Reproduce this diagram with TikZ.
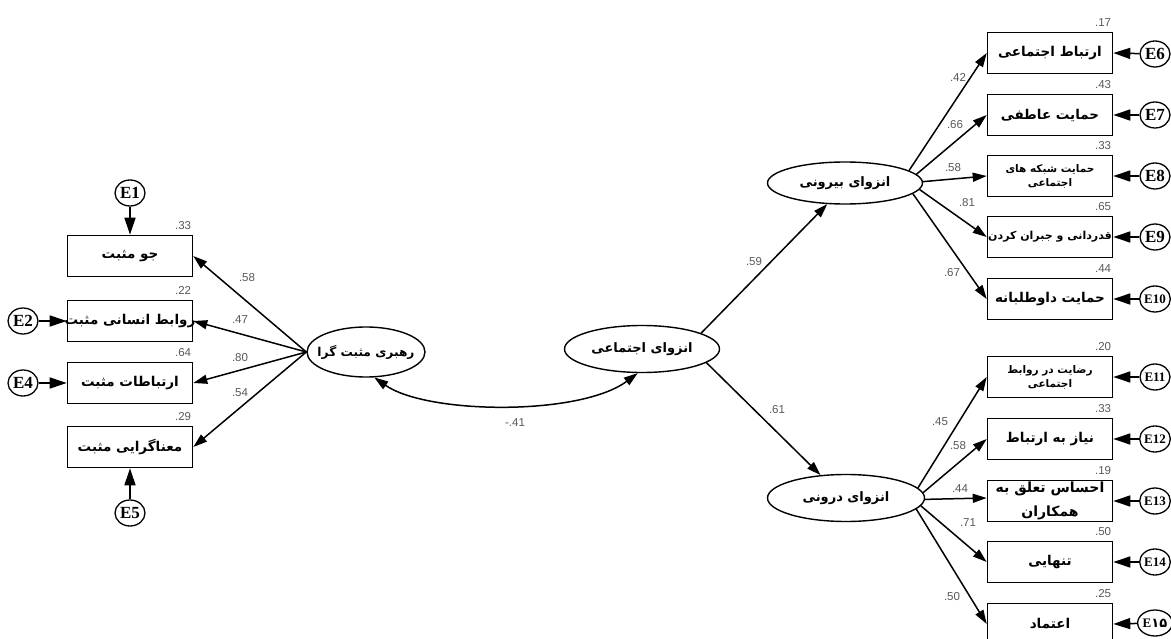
\documentclass[tikz,border=0pt]{standalone}
\usepackage{fontspec}
\setsansfont{Liberation Sans}
\newfontfamily\fa[Script=Arabic]{DejaVu Sans}
\newfontfamily\efont{Liberation Serif}
\TeXXeTstate=1
\usetikzlibrary{arrows.meta,shapes.geometric}
\newcommand{\faR}[1]{\makebox[0pt]{\beginR #1\endR}}
\begin{document}
\begin{tikzpicture}[x=1pt,y=-1pt,
  box/.style={draw, line width=1.6pt, minimum width=125pt, minimum height=41pt, inner sep=1pt, align=center, font=\fa\bfseries\fontsize{13.5}{15}\selectfont},
  smallbox/.style={box, font=\fa\bfseries\fontsize{10.5}{14}\selectfont},
  lat/.style={ellipse, draw, line width=1.4pt, inner sep=0pt, font=\fa\bfseries\fontsize{13}{15}\selectfont},
  err/.style={ellipse, draw, line width=1.3pt, minimum width=30pt, minimum height=26pt, inner sep=0pt, font=\efont\bfseries\fontsize{17}{17}\selectfont},
  errs/.style={err, font=\efont\bfseries\fontsize{13}{13}\selectfont},
  arr/.style={-{Triangle[length=14pt,width=9pt]}, line width=1.5pt},
  earr/.style={-{Triangle[length=17pt,width=11pt]}, line width=1.5pt},
  dbl/.style={{Triangle[length=14pt,width=9pt]}-{Triangle[length=14pt,width=9pt]}, line width=1.5pt},
  num/.style={font=\sffamily\fontsize{11.5}{11.5}\selectfont, text=black!65, inner sep=0pt},
  var/.style={num, anchor=south east, xshift=-2pt, yshift=5pt},
]
\useasboundingbox (0,0) rectangle (1171,639);
\clip (0,0) rectangle (1171,639);
\fill[white] (0,0) rectangle (1171,639);

% left indicators
\node[box] (b1) at (130,256) {\faR{جو مثبت}};
\node[box] (b2) at (130,321) {\faR{روابط انسانی مثبت}};
\node[box] (b3) at (130,383) {\faR{ارتباطات مثبت}};
\node[box] (b4) at (130,447) {\faR{معناگرایی مثبت}};
\node[err] (e1) at (130,193) {E1};
\node[err] (e2) at (23,321) {E2};
\node[err] (e4) at (23,383) {E4};
\node[err] (e5) at (130,513) {E5};

% latent variables
\node[lat, minimum width=118pt, minimum height=50pt, font=\fa\bfseries\fontsize{12.2}{15}\selectfont] (lead) at (366,352) {\faR{رهبری مثبت گرا}};
\node[lat, minimum width=155pt, minimum height=47pt] (soc) at (642,349) {\faR{انزوای اجتماعی}};
\node[lat, minimum width=155pt, minimum height=42pt] (outer) at (845,183) {\faR{انزوای بیرونی}};
\node[lat, minimum width=157pt, minimum height=47pt] (inner) at (846,498) {\faR{انزوای درونی}};

% right upper indicators
\node[box] (b6) at (1050,53) {\faR{ارتباط اجتماعی}};
\node[box] (b7) at (1050,115) {\faR{حمایت عاطفی}};
\node[smallbox] (b8) at (1050,176) {\faR{حمایت شبکه های}\\\faR{اجتماعی}};
\node[smallbox, font=\fa\bfseries\fontsize{11}{14}\selectfont] (b9) at (1050,237) {\faR{قدردانی و جبران کردن}};
\node[box] (b10) at (1050,299) {\faR{حمایت داوطلبانه}};
% right lower indicators
\node[smallbox] (b11) at (1050,377) {\faR{رضایت در روابط}\\\faR{اجتماعی}};
\node[box] (b12) at (1050,439) {\faR{نیاز به ارتباط}};
\node[box, minimum height=41pt, inner ysep=0pt, font=\fa\bfseries\fontsize{14}{24}\selectfont] (b13) at (1050,501) {\faR{احساس تعلق به}\\\faR{همکاران}};
\node[box] (b14) at (1050,562) {\faR{تنهایی}};
\node[box] (b15) at (1050,624) {\faR{اعتماد}};

\node[err] (e6) at (1155,54) {E6};
\node[err] (e7) at (1155,115) {E7};
\node[err] (e8) at (1155,176) {E8};
\node[err] (e9) at (1155,237) {E9};
\node[errs] (e10) at (1155,299) {E10};
\node[errs] (e11) at (1155,377) {E11};
\node[errs] (e12) at (1155,439) {E12};
\node[errs] (e13) at (1155,501) {E13};
\node[errs] (e14) at (1155,562) {E14};
\node[errs] (e15) at (1155,623) {E{\fa ۱۵}};

% error arrows
\draw[earr] (e1) -- (b1.north);
\draw[earr] (e2) -- (b2.west);
\draw[earr] (e4) -- (b3.west);
\draw[earr] (e5) -- (b4.south);
\foreach \i in {6,...,12,14,15} \draw[earr] (e\i) -- (b\i.east);
\draw[earr] (e13) -- (b13.east |- e13);

% loadings left
\foreach \b in {b1,b2,b3,b4} \draw[arr] (lead.west) -- (\b.east);
% structural paths
\draw[arr] (soc.15) -- (outer.-130);
\draw[arr] (soc.-12) -- (inner.138);
\draw[dbl] (lead.-72) .. controls +(53,37) and +(-58,43) .. (soc.-100);
% loadings right
\draw[arr] (outer.11) -- (b6.west);
\draw[arr] (outer.7) -- (b7.west);
\draw[arr] (outer.1) -- (b8.west);
\draw[arr] (outer.-5) -- (b9.west);
\draw[arr] (outer.-9) -- (b10.west);
\draw[arr] (inner.8) -- (b11.west);
\draw[arr] (inner.4) -- (b12.west);
\draw[arr] (inner.-1) -- (b13.west |- inner);
\draw[arr] (inner.-6) -- (b14.west);
\draw[arr] (inner.-9) -- (b15.west);

% variances
\node[var] (v1) at (b1.north east) {.33};
\node[var] (v2) at (b2.north east) {.22};
\node[var] (v3) at (b3.north east) {.64};
\node[var] (v4) at (b4.north east) {.29};
\node[var] (v6) at (b6.north east) {.17};
\node[var] (v7) at (b7.north east) {.43};
\node[var] (v8) at (b8.north east) {.33};
\node[var] (v9) at (b9.north east) {.65};
\node[var] (v10) at (b10.north east) {.44};
\node[var] (v11) at (b11.north east) {.20};
\node[var] (v12) at (b12.north east) {.33};
\node[var] (v13) at (b13.north east) {.19};
\node[var] (v14) at (b14.north east) {.50};
\node[var] (v15) at (b15.north east) {.25};

% coefficients
\node[num] (c1) at (247,278) {.58};
\node[num] (c2) at (240,320) {.47};
\node[num] (c3) at (240,358) {.80};
\node[num] (c4) at (240,393) {.54};
\node[num] (cr) at (515,423) {-.41};
\node[num] (cs1) at (754,262) {.59};
\node[num] (cs2) at (777,410) {.61};
\node[num] (c6) at (958,77) {.42};
\node[num] (c7) at (955,125) {.66};
\node[num] (c8) at (953,168) {.58};
\node[num] (c9) at (967,203) {.81};
\node[num] (c10) at (952,273) {.67};
\node[num] (c11) at (940,422) {.45};
\node[num] (c12) at (958,446) {.58};
\node[num] (c13) at (960,489) {.44};
\node[num] (c14) at (968,523) {.71};
\node[num] (c15) at (952,597) {.50};
\end{tikzpicture}
\end{document}
